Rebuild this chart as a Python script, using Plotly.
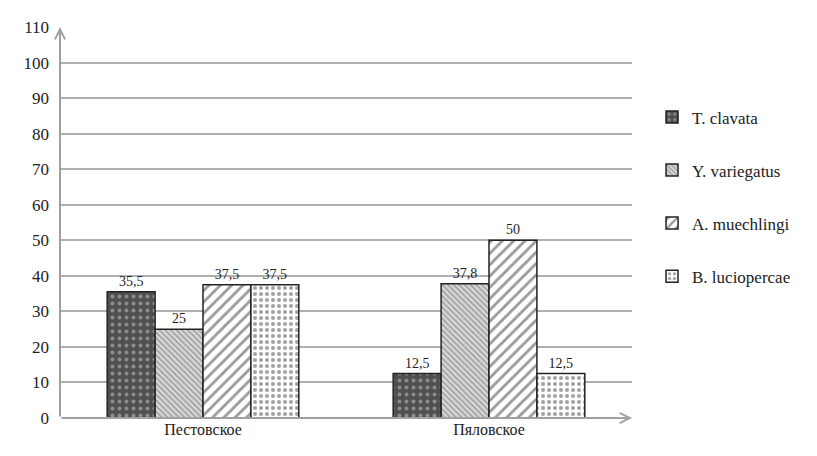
import plotly.graph_objects as go

categories = ["Пестовское", "Пяловское"]
species = ["T. clavata", "Y. variegatus", "A. muechlingi", "B. luciopercae"]
values = {
    "T. clavata": [35.5, 12.5],
    "Y. variegatus": [25, 37.8],
    "A. muechlingi": [37.5, 50],
    "B. luciopercae": [37.5, 12.5],
}
y_ticks = list(range(0, 111, 10))

SERIF = "Liberation Serif, Times New Roman, DejaVu Serif, serif"

styles = {
    "T. clavata": dict(bg="#505050", fg="#c8c8c8", shape=".", size=7, sol=0.25),
    "Y. variegatus": dict(bg="#d8d8d8", fg="#555555", shape="\\", size=4, sol=0.35),
    "A. muechlingi": dict(bg="#ffffff", fg="#333333", shape="/", size=8, sol=0.35),
    "B. luciopercae": dict(bg="#ffffff", fg="#444444", shape=".", size=6, sol=0.35),
}

def fmt(v):
    return ("%g" % v).replace(".", ",")

fig = go.Figure()
for sp in species:
    st = styles[sp]
    fig.add_trace(go.Bar(
        name=sp, x=categories, y=values[sp],
        text=[fmt(v) for v in values[sp]], textposition="outside",
        textfont=dict(family=SERIF, size=14, color="#222"),
        cliponaxis=False,
        legendgroup=sp,
        marker=dict(
            color=st["bg"],
            line=dict(color="#222", width=1.5),
            pattern=dict(shape=st["shape"], fgcolor=st["fg"], bgcolor=st["bg"],
                         size=st["size"], solidity=st["sol"], fillmode="overlay"),
        ),
    ))

fig.update_layout(
    width=817, height=456,
    margin=dict(l=52, r=193, t=10, b=46),
    paper_bgcolor="white", plot_bgcolor="white",
    barmode="group", bargap=0.33, bargroupgap=0,
    font=dict(family=SERIF, size=16, color="#222"),
    legend=dict(x=1.035, y=0.815, xanchor="left", yanchor="top",
                font=dict(family=SERIF, size=17, color="#222"),
                tracegroupgap=28, itemwidth=30),
    showlegend=True,
)
fig.update_yaxes(range=[0, 110], tickvals=y_ticks, showgrid=True,
                 gridcolor="#b0b0b0", gridwidth=2, zeroline=False,
                 showline=False, ticks="", ticklabelstandoff=10,
                 tickfont=dict(family=SERIF, size=17, color="#222"))
fig.update_xaxes(showgrid=False, showline=False, ticks="",
                 tickfont=dict(family=SERIF, size=16, color="#222"))

# axis arrows
fig.add_annotation(x=0, y=110, ax=0, ay=0, xref="x domain", yref="y",
                   axref="x domain", ayref="y", showarrow=True, arrowhead=5,
                   arrowsize=1, arrowwidth=2, arrowcolor="#a0a0a0", text="",
                   standoff=0)
fig.add_annotation(x=1.0, y=0, ax=0, ay=0, xref="x domain", yref="y",
                   axref="x domain", ayref="y", showarrow=True, arrowhead=5,
                   arrowsize=1, arrowwidth=2, arrowcolor="#a0a0a0", text="",
                   standoff=0)

fig.write_html("out.html")
